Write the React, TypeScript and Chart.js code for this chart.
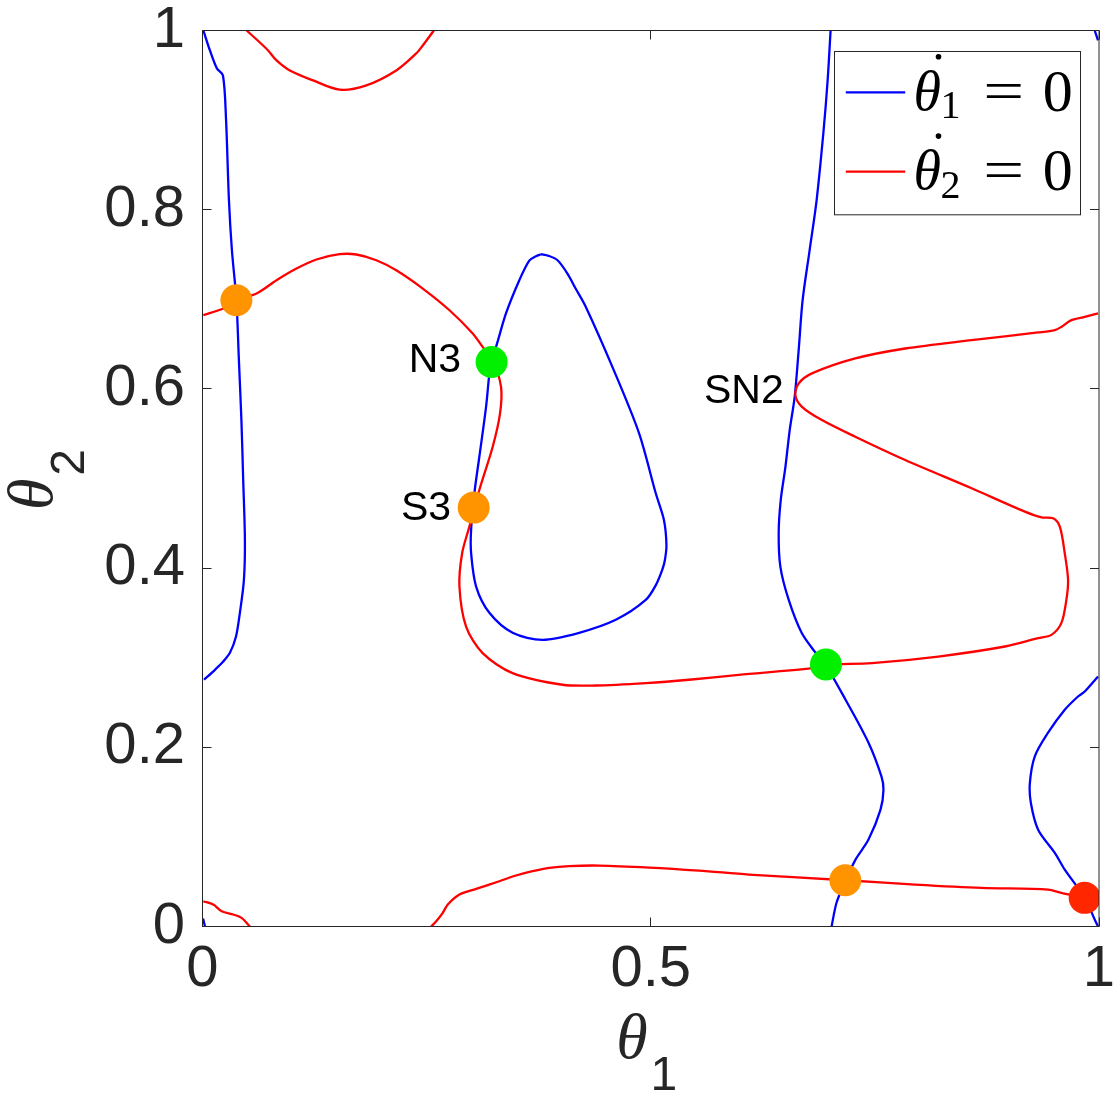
import React, { useEffect, useRef } from 'react';
import { Chart, registerables } from 'chart.js';

Chart.register(...registerables);

// ---------- Data (theta1, theta2) ----------
const xTickValues = [0, 0.5, 1];
const xTickLabels = ['0', '0.5', '1'];
const yTickValues = [0, 0.2, 0.4, 0.6, 0.8, 1];
const yTickLabels = ['0', '0.2', '0.4', '0.6', '0.8', '1'];

// Blue: theta1-dot = 0 nullcline pieces
const blueLeft = [[0.001, 1.0], [0.0083, 0.9777], [0.0161, 0.9576], [0.0228, 0.9498], [0.0262, 0.9019], [0.0295, 0.8105], [0.0328, 0.7547], [0.0378, 0.699], [0.0406, 0.6321], [0.0434, 0.5652], [0.0454, 0.4983], [0.0473, 0.4314], [0.0462, 0.3868], [0.0417, 0.3501], [0.0373, 0.3233], [0.0306, 0.3055], [0.0228, 0.2954], [0.0139, 0.2865], [0.0017, 0.2754]];
const blueCornerBL = [[0.0006, 0.0089], [0.0028, 0]];
const blueCornerTR = [[0.9952, 1.0], [0.9989, 0.9889]];
const blueLoop = [[0.3775, 0.7503], [0.386, 0.7485], [0.396, 0.7436], [0.4071, 0.7287], [0.4162, 0.712], [0.4276, 0.6915], [0.4572, 0.6246], [0.4869, 0.5507], [0.5055, 0.4838], [0.5147, 0.4537], [0.5175, 0.4259], [0.5158, 0.4091], [0.5128, 0.398], [0.5058, 0.3813], [0.4944, 0.3645], [0.461, 0.3423], [0.4201, 0.3278], [0.3793, 0.32], [0.3459, 0.3278], [0.32, 0.3501], [0.3052, 0.3794], [0.2996, 0.4169], [0.2996, 0.4426], [0.3033, 0.4838], [0.3088, 0.5243], [0.3163, 0.58], [0.3219, 0.6321], [0.3274, 0.6469], [0.3386, 0.6845], [0.3534, 0.7213], [0.3645, 0.7432], [0.372, 0.7481], [0.3775, 0.7503]];
const blueMid = [[0.7006, 1.0], [0.6973, 0.9443], [0.6928, 0.8885], [0.685, 0.8105], [0.6772, 0.7547], [0.6694, 0.699], [0.665, 0.6432], [0.6605, 0.5909], [0.655, 0.5541], [0.6502, 0.5128], [0.645, 0.476], [0.6427, 0.4392], [0.6446, 0.4013], [0.6539, 0.3645], [0.6683, 0.3278], [0.6839, 0.3055], [0.695, 0.2921], [0.7173, 0.2531], [0.7429, 0.2051], [0.7574, 0.1672], [0.7596, 0.1527], [0.7563, 0.1304], [0.7429, 0.097], [0.7284, 0.0747], [0.7173, 0.0513], [0.7073, 0.0268], [0.7017, 0]];
const blueRight = [[0.9989, 0.279], [0.9841, 0.2623], [0.9766, 0.2567], [0.9618, 0.2419], [0.9432, 0.2163], [0.9284, 0.1899], [0.9229, 0.1602], [0.924, 0.1379], [0.9321, 0.1081], [0.9507, 0.0822], [0.9618, 0.0635], [0.9841, 0.032], [0.9952, 0.0078], [0.9989, 0]];

// Red: theta2-dot = 0 nullcline pieces
const redTop = [[0.0492, 1.0], [0.064, 0.9866], [0.0732, 0.9777], [0.0826, 0.9666], [0.0974, 0.9554], [0.1233, 0.9443], [0.153, 0.9339], [0.1827, 0.9387], [0.2161, 0.9554], [0.2384, 0.9744], [0.2457, 0.9833], [0.258, 1.0]];
const redMain = [[0.0009, 0.6823], [0.0231, 0.6897], [0.0381, 0.699], [0.0603, 0.7065], [0.0826, 0.7213], [0.1048, 0.7343], [0.1271, 0.7444], [0.153, 0.7503], [0.1716, 0.75], [0.1939, 0.7436], [0.2161, 0.7324], [0.2457, 0.712], [0.2755, 0.6878], [0.3014, 0.6619], [0.3125, 0.6469], [0.3237, 0.6321], [0.333, 0.6023], [0.3319, 0.5727], [0.3237, 0.5354], [0.3088, 0.4872], [0.2977, 0.4463], [0.2896, 0.4166], [0.2866, 0.3794], [0.294, 0.3348], [0.3125, 0.3051], [0.3459, 0.2828], [0.4016, 0.2698], [0.4387, 0.269], [0.4944, 0.2717], [0.5426, 0.2754], [0.5982, 0.2809], [0.6798, 0.2884], [0.695, 0.2921], [0.7466, 0.294], [0.8208, 0.3013], [0.8951, 0.3125], [0.9321, 0.3218], [0.9469, 0.3255], [0.958, 0.3386], [0.9636, 0.3645], [0.9655, 0.3868], [0.9618, 0.4166], [0.9563, 0.4463], [0.9488, 0.4556], [0.9358, 0.4567], [0.9173, 0.463], [0.8579, 0.4891], [0.7838, 0.5206], [0.7281, 0.5466], [0.6909, 0.5652], [0.6687, 0.58], [0.6613, 0.5931], [0.665, 0.6061], [0.6798, 0.6173], [0.7281, 0.634], [0.7838, 0.6451], [0.8579, 0.6544], [0.9321, 0.663], [0.9507, 0.6656], [0.958, 0.6692], [0.9692, 0.6767], [0.9841, 0.6804], [0.9989, 0.6842]];
const redBottomLeft = [[0.0009, 0.0282], [0.012, 0.0245], [0.0214, 0.0171], [0.0343, 0.0134], [0.0436, 0.0097], [0.0529, 0]];
const redBottom = [[0.2551, 0], [0.2607, 0.0059], [0.268, 0.0153], [0.2736, 0.0245], [0.2866, 0.0357], [0.3052, 0.042], [0.3311, 0.0505], [0.3497, 0.0569], [0.3682, 0.0617], [0.3868, 0.0654], [0.409, 0.0674], [0.4424, 0.068], [0.498, 0.0658], [0.5537, 0.0624], [0.6093, 0.058], [0.717, 0.0516], [0.7949, 0.0468], [0.869, 0.0431], [0.9432, 0.0412], [0.958, 0.0376], [0.9841, 0.032], [0.9989, 0.0279]];

// Equilibria
const saddlePoints = [[0.0378, 0.699], [0.3025, 0.4675], [0.717, 0.0516]];
const nodePoints = [[0.3225, 0.63], [0.6954, 0.2924]];
const sourcePoints = [[0.984, 0.032]];

// Annotations (right edge of text, vertical centre)
const pointLabelTexts = ['N3', 'S3', 'SN2'];
const pointLabelX = [0.2885, 0.2773, 0.6483];
const pointLabelY = [0.631, 0.4668, 0.5968];

const legendSubscripts = ['1', '2'];

const BLUE = '#0000FF';
const RED = '#FF0000';
const AXIS = '#262626';
const SANS = '"Liberation Sans", Arial, Helvetica, sans-serif';
const SERIF = '"Liberation Serif", "Times New Roman", serif';

const toXY = (arr: number[][]) => arr.map(([x, y]) => ({ x, y }));

const lineDs = (data: number[][], color: string, order: number) => ({
  data: toXY(data),
  showLine: true,
  borderColor: color,
  backgroundColor: color,
  borderWidth: 2.3,
  pointRadius: 0,
  pointHoverRadius: 0,
  tension: 0.3,
  fill: false,
  order,
});

const markerDs = (data: number[][], color: string) => ({
  data: toXY(data),
  showLine: false,
  pointRadius: 16,
  pointHoverRadius: 16,
  pointBorderWidth: 0,
  pointBackgroundColor: color,
  pointBorderColor: color,
  backgroundColor: color,
  borderColor: color,
  order: 0,
});

const zeroPadding = (scale: any) => {
  scale.paddingTop = 0;
  scale.paddingBottom = 0;
  scale.paddingLeft = 0;
  scale.paddingRight = 0;
};

const overlayPlugin = {
  id: 'overlay',
  afterDraw(chart: any) {
    const { ctx, chartArea: ca, scales } = chart;
    const xs = scales.x;
    const ys = scales.y;
    ctx.save();

    // Axes box and inward ticks
    ctx.strokeStyle = AXIS;
    ctx.lineWidth = 1;
    ctx.strokeRect(ca.left, ca.top, ca.right - ca.left, ca.bottom - ca.top);
    const tl = 9;
    ctx.beginPath();
    xTickValues.forEach((v) => {
      const px = Math.round(xs.getPixelForValue(v) - 0.5) + 0.5;
      ctx.moveTo(px, ca.bottom);
      ctx.lineTo(px, ca.bottom - tl);
      ctx.moveTo(px, ca.top);
      ctx.lineTo(px, ca.top + tl);
    });
    yTickValues.forEach((v) => {
      const py = Math.round(ys.getPixelForValue(v) - 0.5) + 0.5;
      ctx.moveTo(ca.left, py);
      ctx.lineTo(ca.left + tl, py);
      ctx.moveTo(ca.right, py);
      ctx.lineTo(ca.right - tl, py);
    });
    ctx.stroke();

    // Point labels
    ctx.fillStyle = '#000000';
    ctx.font = `41px ${SANS}`;
    ctx.textAlign = 'right';
    ctx.textBaseline = 'middle';
    pointLabelTexts.forEach((t, i) => {
      ctx.fillText(t, xs.getPixelForValue(pointLabelX[i]), ys.getPixelForValue(pointLabelY[i]));
    });

    // Axis titles: theta_1 / theta_2
    ctx.fillStyle = AXIS;
    ctx.textAlign = 'left';
    ctx.textBaseline = 'alphabetic';
    const thetaFont = `italic 64px ${SERIF}`;
    const subFont = `48px ${SANS}`;
    ctx.font = thetaFont;
    const wTheta = ctx.measureText('θ').width;
    ctx.font = subFont;
    const wSub1 = ctx.measureText('1').width;
    const gap = 3;
    const cx = (ca.left + ca.right) / 2 - 4;
    const x0 = cx - (wTheta + gap + wSub1) / 2;
    ctx.font = thetaFont;
    ctx.fillText('θ', x0, ca.bottom + 131.5);
    ctx.font = subFont;
    ctx.fillText('1', x0 + wTheta + gap, ca.bottom + 163);

    // y title rotated
    const cy = (ca.top + ca.bottom) / 2 + 1;
    ctx.font = subFont;
    const wSub2 = ctx.measureText('2').width;
    ctx.save();
    ctx.translate(ca.left - 150.5, cy + (wTheta + gap + wSub2) / 2);
    ctx.rotate(-Math.PI / 2);
    ctx.font = thetaFont;
    ctx.fillText('θ', 0, 0);
    ctx.font = subFont;
    ctx.fillText('2', wTheta + gap, 32);
    ctx.restore();

    // Legend
    const lw = 246;
    const lh = 163.3;
    const lx = ca.right - 264.8;
    const ly = ca.top + 20.2;
    ctx.fillStyle = '#FFFFFF';
    ctx.fillRect(lx, ly, lw, lh);
    ctx.strokeStyle = AXIS;
    ctx.lineWidth = 1;
    ctx.strokeRect(Math.round(lx) + 0.5, Math.round(ly) + 0.5, lw, lh);
    const legendColors = [BLUE, RED];
    legendSubscripts.forEach((sub, i) => {
      const rowY = ly + 41.6 + i * 79.4;
      ctx.strokeStyle = legendColors[i];
      ctx.lineWidth = 2.3;
      ctx.beginPath();
      ctx.moveTo(lx + 11.6, rowY);
      ctx.lineTo(lx + 71, rowY);
      ctx.stroke();
      ctx.fillStyle = '#000000';
      ctx.textAlign = 'left';
      ctx.textBaseline = 'alphabetic';
      const base = rowY + 17.7;
      ctx.font = `italic 56px ${SERIF}`;
      ctx.fillText('θ', lx + 79.3, base);
      // dot accent
      ctx.beginPath();
      ctx.arc(lx + 104.3, rowY - 35.6, 2.8, 0, Math.PI * 2);
      ctx.fill();
      ctx.font = `40px ${SERIF}`;
      ctx.fillText(sub, lx + 106.3, base + 8.3);
      // wide equals sign like the TeX one
      ctx.save();
      ctx.translate(lx + 149, base);
      ctx.scale(1.25, 1);
      ctx.font = `58px ${SERIF}`;
      ctx.fillText('=', 0, 0);
      ctx.restore();
      ctx.font = `60px ${SERIF}`;
      ctx.fillText('0', lx + 208.5, base + 0.7);
    });

    ctx.restore();
  },
};

export default function App() {
  const canvasRef = useRef<HTMLCanvasElement | null>(null);

  useEffect(() => {
    document.body.style.margin = '0';
    const canvas = canvasRef.current;
    if (!canvas) return;
    const chart = new Chart(canvas, {
      type: 'scatter',
      data: {
        datasets: [
          markerDs(saddlePoints, '#FF9400'),
          markerDs(nodePoints, '#00F000'),
          markerDs(sourcePoints, '#FF2600'),
          lineDs(redMain, RED, 1),
          lineDs(redTop, RED, 1),
          lineDs(redBottomLeft, RED, 1),
          lineDs(redBottom, RED, 1),
          lineDs(blueLeft, BLUE, 2),
          lineDs(blueCornerBL, BLUE, 2),
          lineDs(blueCornerTR, BLUE, 2),
          lineDs(blueLoop, BLUE, 2),
          lineDs(blueMid, BLUE, 2),
          lineDs(blueRight, BLUE, 2),
        ] as any,
      },
      options: {
        animation: false,
        responsive: false,
        devicePixelRatio: 1,
        layout: { padding: { left: 0, top: 30.5, right: 14.5, bottom: 0 } },
        plugins: { legend: { display: false }, tooltip: { enabled: false } },
        events: [],
        scales: {
          x: {
            type: 'linear',
            min: 0,
            max: 1,
            grid: { display: false, drawTicks: false },
            border: { display: false },
            afterBuildTicks: (scale: any) => {
              scale.ticks = xTickValues.map((v) => ({ value: v }));
            },
            afterFit: (scale: any) => {
              scale.height = 167.5;
              zeroPadding(scale);
            },
            ticks: {
              autoSkip: false,
              maxRotation: 0,
              padding: 9,
              color: AXIS,
              font: { family: SANS, size: 58 },
              callback: (v: any) => xTickLabels[xTickValues.indexOf(Number(v))] ?? '',
            },
          },
          y: {
            type: 'linear',
            min: 0,
            max: 1,
            grid: { display: false, drawTicks: false },
            border: { display: false },
            afterBuildTicks: (scale: any) => {
              scale.ticks = yTickValues.map((v) => ({ value: v }));
            },
            afterFit: (scale: any) => {
              scale.width = 202.5;
              zeroPadding(scale);
            },
            ticks: {
              autoSkip: false,
              padding: 17.5,
              color: AXIS,
              font: { family: SANS, size: 58 },
              callback: (v: any) => {
                const idx = yTickValues.findIndex((t) => Math.abs(t - Number(v)) < 1e-9);
                return idx >= 0 ? yTickLabels[idx] : '';
              },
            },
          },
        },
      } as any,
      plugins: [overlayPlugin],
    });
    return () => chart.destroy();
  }, []);

  return (
    <canvas
      ref={canvasRef}
      width={1115}
      height={1094}
      style={{ display: 'block', width: '1115px', height: '1094px' }}
    />
  );
}
